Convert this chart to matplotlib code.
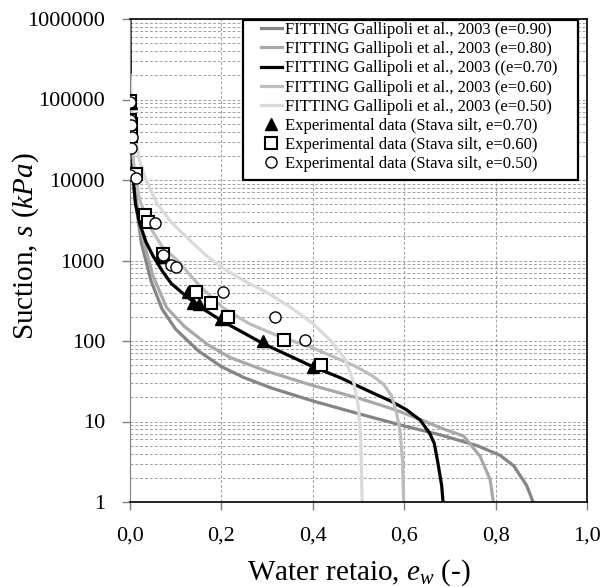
import matplotlib
matplotlib.use("Agg")
import matplotlib.pyplot as plt
from matplotlib.patches import Rectangle
from matplotlib.ticker import FixedLocator, FuncFormatter, NullFormatter

plt.rcParams["font.family"] = ["Liberation Serif", "DejaVu Serif"]
plt.rcParams["mathtext.fontset"] = "custom"
plt.rcParams["mathtext.rm"] = "Liberation Serif"
plt.rcParams["mathtext.it"] = "Liberation Serif:italic"

# fitted curves (Gallipoli et al., 2003)
ew_090 = [0.000, 0.003, 0.010, 0.025, 0.046, 0.070, 0.100, 0.150, 0.200, 0.250, 0.310,
          0.400, 0.500, 0.600, 0.680, 0.760, 0.810, 0.840, 0.868, 0.882]
s_090 = [1e5, 2.5e4, 6800, 1630, 560, 250, 140, 75, 48, 35, 26,
         18, 12.5, 8.8, 6.8, 5.0, 3.8, 2.8, 1.6, 1.0]

ew_080 = [0.000, 0.003, 0.010, 0.025, 0.050, 0.080, 0.120, 0.170, 0.220, 0.300, 0.400,
          0.500, 0.580, 0.650, 0.680, 0.730, 0.766, 0.788, 0.795]
s_080 = [1e5, 3e4, 8000, 2200, 650, 260, 150, 90, 62, 42, 28,
         19.5, 14, 9.8, 8.3, 6.6, 3.7, 1.9, 1.0]

ew_070 = [0.000, 0.001, 0.003, 0.006, 0.012, 0.021, 0.035, 0.050, 0.070, 0.090, 0.123,
          0.160, 0.203, 0.250, 0.291, 0.350, 0.400, 0.460, 0.532, 0.570, 0.605, 0.635,
          0.656, 0.666, 0.674, 0.682, 0.685]
s_070 = [1e6, 1e5, 2.5e4, 1.2e4, 5000, 2900, 1700, 1150, 750, 520, 360,
         250, 175, 125, 93, 65, 48, 35, 22.5, 18, 14, 10.4,
         7.1, 5.3, 3.0, 1.6, 1.0]

ew_060 = [0.000, 0.002, 0.008, 0.020, 0.040, 0.070, 0.104, 0.150, 0.203, 0.260, 0.320,
          0.400, 0.450, 0.495, 0.530, 0.555, 0.572, 0.583, 0.591, 0.596, 0.599]
s_060 = [2e5, 5e4, 1.6e4, 6000, 2800, 1500, 1000, 500, 260, 165, 118,
         82, 62, 48, 37, 29, 21, 13, 7.5, 3.5, 1.0]

ew_050 = [0.000, 0.004, 0.010, 0.020, 0.035, 0.060, 0.090, 0.120, 0.145, 0.167, 0.210,
          0.260, 0.300, 0.350, 0.400, 0.440, 0.470, 0.490, 0.500, 0.505, 0.508]
s_050 = [2e5, 8e4, 4e4, 1.8e4, 1e4, 5000, 3000, 2050, 1500, 1150, 760,
         520, 400, 265, 165, 100, 60, 30, 15, 6, 1.0]

# experimental data, Stava silt
tri_ew = [0.002, 0.003, 0.010, 0.035, 0.070, 0.127, 0.138, 0.150, 0.200, 0.291, 0.400]
tri_s = [9e4, 4e4, 1.2e4, 3500, 1100, 410, 300, 290, 190, 100, 48]

sq_ew = [0.000, 0.000, 0.002, 0.003, 0.013, 0.032, 0.040, 0.072, 0.145, 0.178, 0.214, 0.338, 0.419]
sq_s = [9.5e4, 5.5e4, 5e4, 3.5e4, 1.2e4, 3700, 3000, 1200, 410, 300, 200, 103, 50]

ci_ew = [0.000, 0.001, 0.003, 0.004, 0.003, 0.000, 0.013, 0.054, 0.072, 0.090, 0.101,
         0.203, 0.317, 0.384]
ci_s = [9.4e4, 5.6e4, 4.8e4, 3.4e4, 2.5e4, 1.15e4, 1.05e4, 2900, 1170, 870, 840,
        410, 200, 103]

fit_label = "FITTING Gallipoli et al., 2003 "

fig = plt.figure(figsize=(6.03, 5.87), dpi=100)
ax = fig.add_axes([130 / 603, 85 / 587, 457 / 603, 483 / 587])

ax.plot(ew_090, s_090, color="#858585", lw=2.3, label=fit_label + "(e=0.90)")
ax.plot(ew_080, s_080, color="#a8a8a8", lw=2.3, label=fit_label + "(e=0.80)")
ax.plot(ew_070, s_070, color="black", lw=2.3, label=fit_label + "((e=0.70)")
ax.plot(ew_060, s_060, color="#bdbdbd", lw=2.3, label=fit_label + "(e=0.60)")
ax.plot(ew_050, s_050, color="#dadada", lw=2.3, label=fit_label + "(e=0.50)")

ax.plot(tri_ew, tri_s, ls="none", marker="^", ms=8, color="black",
        label="Experimental data (Stava silt, e=0.70)", zorder=4)
ax.plot(sq_ew, sq_s, ls="none", marker="s", ms=9, mfc="white", mec="black", mew=1.5,
        label="Experimental data (Stava silt, e=0.60)", zorder=5)
ax.plot(ci_ew, ci_s, ls="none", marker="o", ms=8, mfc="white", mec="black", mew=1.0,
        label="Experimental data (Stava silt, e=0.50)", zorder=6)

ax.set_yscale("log")
ax.set_xlim(0, 1.0)
ax.set_ylim(1, 1e6)

yt = [1, 10, 100, 1000, 10000, 100000, 1000000]
ax.yaxis.set_major_locator(FixedLocator(yt))
ax.yaxis.set_major_formatter(FuncFormatter(lambda v, p: "%d" % round(v)))
ax.yaxis.set_minor_locator(FixedLocator([m * 10 ** k for k in range(6) for m in range(2, 10)]))
ax.yaxis.set_minor_formatter(NullFormatter())
xt = [0.0, 0.2, 0.4, 0.6, 0.8, 1.0]
ax.xaxis.set_major_locator(FixedLocator(xt))
ax.xaxis.set_major_formatter(FuncFormatter(lambda v, p: ("%.1f" % v).replace(".", ",")))

ax.grid(which="major", axis="x", color="#a0a0a0", lw=0.7, ls=(0, (3, 2)))
ax.grid(which="both", axis="y", color="#a0a0a0", lw=0.7, ls=(0, (3, 2)))
ax.set_axisbelow(True)

ax.tick_params(axis="both", which="major", labelsize=16, length=6, width=1.0,
               color="#808080", direction="out")
ax.tick_params(axis="y", which="minor", length=0)
ax.tick_params(axis="x", pad=12)
ax.tick_params(axis="y", pad=12)

ax.spines["left"].set_color("#808080")
for side in ["top", "right", "bottom"]:
    ax.spines[side].set_color("black")
    ax.spines[side].set_linewidth(1.2)

ax.set_xlabel(r"Water retaio, $e_w$ $\mathit{(\text{-})}$", fontsize=21, labelpad=8)
ax.set_ylabel(r"Suction, $s$ $\mathit{(kPa)}$", fontsize=21)
ax.yaxis.set_label_coords(-0.195, 0.53)

# legend box as in the original (white, black border)
box = Rectangle((243 / 603, 407 / 587), 335 / 603, 160 / 587, transform=fig.transFigure,
                facecolor="white", edgecolor="black", lw=1.6, zorder=10, clip_on=False)
ax.add_patch(box)

leg = ax.legend(loc="upper left", bbox_to_anchor=(261 / 603, 565 / 587),
                bbox_transform=fig.transFigure, fontsize=12, frameon=False,
                handlelength=1.25, handletextpad=0.2, labelspacing=0.19,
                borderpad=0, borderaxespad=0)
leg.set_zorder(11)

fig.savefig("out.png", dpi=100)
